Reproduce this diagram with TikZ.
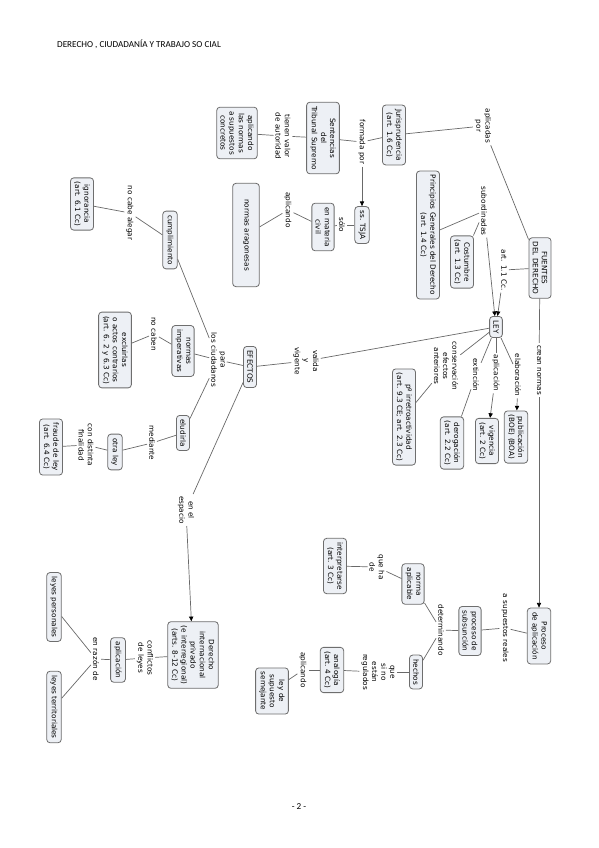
\documentclass[tikz,border=0pt]{standalone}
\usepackage{fontspec}
\usetikzlibrary{arrows.meta}
\newfontfamily\mapfont{DejaVu Sans}
\newfontfamily\headfont{Carlito}
\definecolor{conceptfill}{RGB}{237,240,245}
\definecolor{conceptline}{RGB}{110,110,110}
\definecolor{linkgray}{RGB}{105,105,105}
\tikzset{
    concept/.style={draw=conceptline, fill=conceptfill, rounded corners=2.8pt,
        line width=0.7pt, rotate=-90, align=center, inner xsep=3.4pt, inner ysep=3.2pt,
        font=\mapfont\fontsize{6.2}{7.8}\selectfont},
    phrase/.style={rotate=-90, align=center, inner sep=1.6pt,
        font=\mapfont\fontsize{6.2}{7.8}\selectfont},
    link/.style={draw=linkgray, line width=0.6pt},
    linkto/.style={link, -{Triangle[length=4pt,width=3.6pt,black]}}
}
\begin{document}
\begin{tikzpicture}[x=0.3mm, y=-0.3mm]
    \useasboundingbox (0,0) rectangle (599,848);
    \node[anchor=west, font=\headfont\fontsize{7.8}{9}\selectfont] (header) at (53,44) {DERECHO , CIUDADANÍA Y TRABAJO SO CIAL};
    \node[font=\headfont\fontsize{7.8}{9}\selectfont] (pagenum) at (299,807) {- 2 -};

    \node[concept] (fuentes) at (540,268) {FUENTES\\DEL DERECHO};
    \node[concept] (jur) at (394,135) {Jurisprudencia\\(art. 1.6 Cc)};
    \node[concept] (sent) at (323,138) {Sentencias\\del\\Tribunal Supremo};
    \node[concept] (aplnorm) at (237,133) {aplicando\\las normas\\a supuestos\\concretos};
    \node[concept] (ssTSJA) at (362,225) {ss. TSJA};
    \node[concept] (mcivil) at (323,227) {en materia\\civil};
    \node[concept, minimum width=31mm, minimum height=8mm] (normarag) at (246,235) {normas aragonesas};
    \node[concept] (princ) at (428,235) {Principios Generales del Derecho\\(art. 1.4 Cc)};
    \node[concept] (costum) at (462,262) {Costumbre\\(art. 1.3 Cc)};
    \node[concept] (ley) at (496,327) {LEY};
    \node[concept] (public) at (516,437) {publicación\\(BOE) (BOA)};
    \node[concept] (vigen) at (487,441) {vigencia\\(art. 2 Cc)};
    \node[concept] (derog) at (452,443) {derogación\\(art. 2.2 Cc)};
    \node[concept] (irretro) at (404,417) {pº irretroactividad\\(art. 9.3 CE; art. 2.3 Cc)};
    \node[concept] (efectos) at (250,367) {EFECTOS};
    \node[concept] (cumpl) at (170,240) {cumplimiento};
    \node[concept] (ignor) at (82,204) {ignorancia\\(art. 6.1 Cc)};
    \node[concept] (normimp) at (183,351) {normas\\imperativas};
    \node[concept] (exclu) at (115,350) {excluirlas\\o actos contrarios\\(art. 6. 2 y 6.3 Cc)};
    \node[concept] (eludir) at (183,433) {eludirla};
    \node[concept] (otraley) at (115,452) {otra ley};
    \node[concept] (fraude) at (51,447) {fraude de ley\\(art. 6.4 Cc)};
    \node[concept] (proceso) at (539,636) {Proceso\\de aplicación};
    \node[concept] (subsun) at (470,631) {proceso de\\subsunción};
    \node[concept] (normapl) at (413,584) {norma\\aplicable};
    \node[concept] (interp) at (335,566) {interpretarse\\(art. 3 Cc)};
    \node[concept] (hechos) at (416,672) {hechos};
    \node[concept] (analog) at (332,670) {analogía\\(art. 4 Cc)};
    \node[concept] (leysem) at (272,691) {ley de\\supuesto\\semejante};
    \node[concept] (dip) at (193,655) {Derecho\\internacional\\privado\\(e interregional)\\(arts. 8-12 Cc)};
    \node[concept] (aplic) at (118,660) {aplicación};
    \node[concept] (leypers) at (54,607) {leyes personales};
    \node[concept] (leyterr) at (54,707) {leyes territoriales};

    \node[phrase] (aplicadas) at (483,126) {aplicadas\\por};
    \node[phrase] (formada) at (362,142) {formada por};
    \node[phrase] (tienen) at (283,136) {tienen valor\\de autoridad};
    \node[phrase] (solo) at (342,225) {sólo};
    \node[phrase] (aplicandoA) at (288,210) {aplicando};
    \node[phrase] (subord) at (484,211) {subordinadas};
    \node[phrase] (art11) at (504,270) {art. 1.1 Cc.};
    \node[phrase] (crean) at (539,370) {crean normas};
    \node[phrase] (elab) at (518,375) {elaboración};
    \node[phrase] (aplicL) at (496,373) {aplicación};
    \node[phrase] (extin) at (476,375) {extinción};
    \node[phrase] (conserv) at (446,366) {conservación\\efectos\\anteriores};
    \node[phrase] (valida) at (306,361) {valida\\y\\vigente};
    \node[phrase] (para) at (218,360) {para\\los ciudadanos};
    \node[phrase] (nocabealeg) at (130,213) {no cabe alegar};
    \node[phrase] (nocaben) at (154,334) {no caben};
    \node[phrase] (mediante) at (152,443) {mediante};
    \node[phrase] (condist) at (86,445) {con distinta\\finalidad};
    \node[phrase] (espacio) at (186,510) {en el\\espacio};
    \node[phrase] (conflictos) at (145,658) {conflictos\\de leyes};
    \node[phrase] (razon) at (96,659) {en razón de};
    \node[phrase] (supuestos) at (505,628) {a supuestos reales};
    \node[phrase] (determ) at (441,630) {determinando};
    \node[phrase] (queha) at (377,567) {que ha\\de};
    \node[phrase] (quesino) at (378,672) {que\\si no\\están\\regulados};
    \node[phrase] (aplicandoB) at (303,670) {aplicando};

    \draw[link] (jur) -- (aplicadas);
    \draw[link] (aplicadas) -- (fuentes);
    \draw[link] (jur) -- (formada);
    \draw[link] (formada) -- (sent);
    \draw[linkto] (formada) -- (ssTSJA);
    \draw[link] (sent) -- (tienen);
    \draw[link] (tienen) -- (aplnorm);
    \draw[link] (ssTSJA) -- (solo);
    \draw[link] (solo) -- (mcivil);
    \draw[link] (mcivil) -- (aplicandoA);
    \draw[link] (aplicandoA) -- (normarag);
    \draw[link] (fuentes) -- (art11);
    \draw[linkto] (art11) -- (ley);
    \draw[link] (princ) -- (subord);
    \draw[link] (costum) -- (subord);
    \draw[linkto] (subord) -- (ley);
    \draw[link] (fuentes) -- (crean);
    \draw[linkto] (crean) -- (proceso);
    \draw[link] (ley) -- (elab);
    \draw[linkto] (elab) -- (public);
    \draw[link] (ley) -- (aplicL);
    \draw[linkto] (aplicL) -- (vigen);
    \draw[link] (ley) -- (extin);
    \draw[link] (extin) -- (derog);
    \draw[link] (ley) -- (conserv);
    \draw[link] (conserv) -- (irretro);
    \draw[link] (ley) -- (valida);
    \draw[link] (valida) -- (efectos);
    \draw[link] (efectos) -- (para);
    \draw[link] (para) -- (cumpl);
    \draw[link] (para) -- (normimp);
    \draw[link] (para) -- (eludir);
    \draw[link] (cumpl) -- (nocabealeg);
    \draw[link] (nocabealeg) -- (ignor);
    \draw[link] (normimp) -- (nocaben);
    \draw[link] (nocaben) -- (exclu);
    \draw[link] (eludir) -- (mediante);
    \draw[link] (mediante) -- (otraley);
    \draw[link] (otraley) -- (condist);
    \draw[link] (condist) -- (fraude);
    \draw[link] (efectos) -- (espacio);
    \draw[linkto] (espacio) -- (dip);
    \draw[link] (dip) -- (conflictos);
    \draw[link] (conflictos) -- (aplic);
    \draw[link] (aplic) -- (razon);
    \draw[link] (razon) -- (leypers);
    \draw[link] (razon) -- (leyterr);
    \draw[link] (proceso) -- (supuestos);
    \draw[link] (supuestos) -- (subsun);
    \draw[link] (subsun) -- (determ);
    \draw[link] (determ) -- (normapl);
    \draw[link] (determ) -- (hechos);
    \draw[link] (normapl) -- (queha);
    \draw[link] (queha) -- (interp);
    \draw[link] (hechos) -- (quesino);
    \draw[link] (quesino) -- (analog);
    \draw[link] (analog) -- (aplicandoB);
    \draw[link] (aplicandoB) -- (leysem);
\end{tikzpicture}
\end{document}
